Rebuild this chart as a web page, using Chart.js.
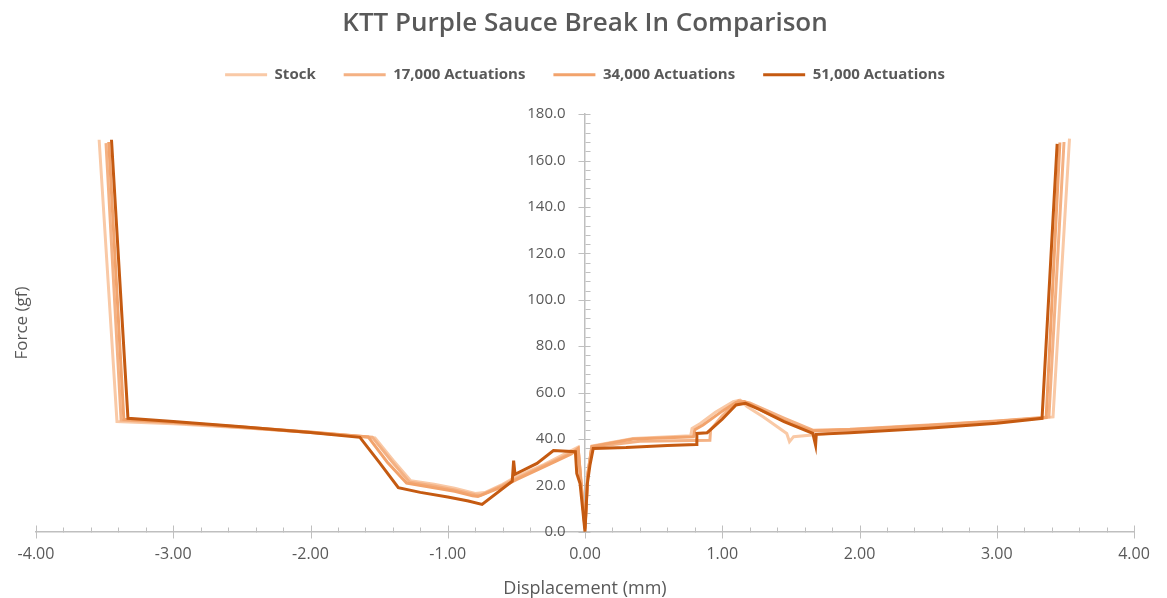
<!DOCTYPE html>
<html>
<head>
<meta charset="utf-8">
<script src="https://cdn.jsdelivr.net/npm/chart.js@4.4.1/dist/chart.umd.min.js"></script>
<style>
  html, body { margin: 0; padding: 0; background: #fff; }
  #wrap { width: 1167px; height: 598px; }
</style>
</head>
<body>
<div id="wrap"><canvas id="chart"></canvas></div>
<script>
// series names + colours
const seriesNames = ["Stock", "17,000 Actuations", "34,000 Actuations", "51,000 Actuations"];
const seriesColors = ["#f9c9a6", "#f4b183", "#f2a36c", "#c55a11"];

// displacement (mm) / force (gf)
const stockX = [-3.54, -3.41, -3.0, -2.5, -2.0, -1.53, -1.40, -1.27, -1.10, -0.95, -0.80, -0.73, -0.60, -0.50, -0.30, -0.10, -0.05, -0.03, 0.00, 0.02, 0.05, 0.35, 0.77, 0.78, 0.84, 0.95, 1.08, 1.13, 1.18, 1.30, 1.47, 1.49, 1.52, 1.93, 2.5, 3.0, 3.41, 3.53];
const stockY = [169.0, 47.5, 46.6, 44.8, 42.9, 40.5, 31.0, 22.0, 20.5, 18.8, 16.5, 16.9, 20.5, 23.8, 29.0, 35.0, 36.5, 22.0, 1.0, 24.0, 37.0, 40.2, 41.4, 44.6, 46.7, 51.5, 56.1, 56.8, 54.0, 49.5, 42.4, 38.8, 41.0, 43.2, 45.3, 47.3, 49.5, 169.5];

const k17X = [-3.49, -3.38, -3.0, -2.5, -2.0, -1.55, -1.41, -1.28, -1.10, -0.95, -0.80, -0.76, -0.60, -0.50, -0.30, -0.10, -0.05, -0.03, 0.00, 0.02, 0.05, 0.40, 0.91, 0.915, 1.00, 1.12, 1.20, 1.45, 1.66, 1.93, 2.5, 3.0, 3.38, 3.49];
const k17Y = [167.5, 48.2, 47.0, 45.0, 42.8, 40.8, 30.5, 21.5, 19.8, 18.0, 16.0, 15.8, 20.0, 23.0, 28.5, 34.0, 36.0, 21.0, 2.0, 25.0, 36.6, 39.0, 39.5, 44.0, 50.0, 56.5, 55.5, 49.0, 43.8, 44.2, 46.0, 47.8, 49.5, 168.0];

const k34X = [-3.47, -3.36, -3.0, -2.5, -2.0, -1.58, -1.44, -1.30, -1.10, -0.95, -0.82, -0.78, -0.60, -0.50, -0.30, -0.10, -0.05, -0.03, 0.00, 0.02, 0.05, 0.35, 0.79, 0.80, 0.86, 1.00, 1.10, 1.16, 1.30, 1.50, 1.66, 1.93, 2.5, 3.0, 3.36, 3.46];
const k34Y = [168.0, 48.5, 47.2, 45.2, 43.0, 40.9, 30.0, 21.0, 19.0, 17.5, 15.5, 15.2, 19.5, 22.5, 28.0, 33.5, 35.8, 22.5, 1.5, 24.5, 36.8, 40.0, 41.0, 44.0, 46.0, 52.0, 55.8, 56.2, 52.0, 46.5, 43.5, 44.0, 45.8, 47.6, 49.2, 167.8];

const k51X = [-3.45, -3.33, -3.0, -2.5, -2.0, -1.64, -1.50, -1.36, -1.20, -1.00, -0.85, -0.75, -0.53, -0.52, -0.51, -0.35, -0.23, -0.07, -0.06, -0.036, 0.00, 0.017, 0.036, 0.06, 0.30, 0.60, 0.81, 0.815, 0.89, 1.00, 1.10, 1.17, 1.27, 1.45, 1.66, 1.68, 1.685, 1.93, 2.5, 3.0, 3.33, 3.44];
const k51Y = [169.0, 48.9, 47.5, 45.3, 42.8, 40.7, 30.0, 19.0, 17.0, 15.0, 13.3, 11.8, 21.8, 30.7, 24.8, 29.5, 35.0, 34.5, 25.1, 20.8, 0.0, 20.8, 28.7, 35.9, 36.3, 37.2, 37.6, 42.4, 42.7, 48.5, 54.7, 55.4, 52.8, 47.5, 42.4, 37.3, 42.0, 42.7, 44.6, 46.8, 48.9, 167.2];

const seriesX = [stockX, k17X, k34X, k51X];
const seriesY = [stockY, k17Y, k34Y, k51Y];

// axis ranges
const xMin = -4, xMax = 4, xStep = 1, xMinor = 0.2;
const yMin = 0, yMax = 180, yStep = 20, yMinor = 4;

const TEXT = "#595959";
const AXIS = "#bfbfbf";
const FONT = "'Open Sans', 'Noto Sans', sans-serif";

function pts(xs, ys) {
  return xs.map(function(v, i) { return { x: v, y: ys[i] }; });
}

// axis tick marks (major cross the axis, minor on one side) + y labels left of the centred axis
const tickMarks = {
  id: "tickMarks",
  beforeDatasetsDraw(chart) {
    const ctx = chart.ctx;
    const x = chart.scales.x, y = chart.scales.y;
    const x0 = Math.round(x.getPixelForValue(0)) + 0.5;
    const y0 = Math.round(y.getPixelForValue(0)) + 0.5;
    ctx.save();
    ctx.strokeStyle = AXIS;
    ctx.lineWidth = 1;
    ctx.beginPath();
    const nx = Math.round((xMax - xMin) / xMinor);
    for (let i = 0; i <= nx; i++) {
      const px = Math.round(x.getPixelForValue(xMin + i * xMinor)) + 0.5;
      const major = i % 5 === 0;
      ctx.moveTo(px, y0 - (major ? 7 : 5));
      ctx.lineTo(px, major ? y0 + 6 : y0);
    }
    const ny = Math.round((yMax - yMin) / yMinor);
    for (let i = 0; i <= ny; i++) {
      const py = Math.round(y.getPixelForValue(yMin + i * yMinor)) + 0.5;
      const major = i % 5 === 0;
      ctx.moveTo(major ? x0 - 7 : x0, py);
      ctx.lineTo(x0 + 5, py);
    }
    ctx.stroke();

    ctx.font = "15px " + FONT;
    ctx.fillStyle = TEXT;
    ctx.textAlign = "right";
    ctx.textBaseline = "middle";
    y.ticks.forEach(function(t) {
      ctx.fillText(t.value.toFixed(1), x0 - 20, y.getPixelForValue(t.value));
    });
    ctx.restore();
  }
};

// y axis title sits at the far left, not next to the centred axis
const yTitle = {
  id: "yTitle",
  afterDraw(chart) {
    const ctx = chart.ctx, a = chart.chartArea;
    ctx.save();
    ctx.translate(22, (a.top + a.bottom) / 2);
    ctx.rotate(-Math.PI / 2);
    ctx.font = "17px " + FONT;
    ctx.fillStyle = TEXT;
    ctx.textAlign = "center";
    ctx.textBaseline = "middle";
    ctx.fillText("Force (gf)", 0, 0);
    ctx.restore();
  }
};

// extra room under the legend
const legendGap = {
  id: "legendGap",
  beforeInit(chart) {
    const fit = chart.legend.fit;
    chart.legend.fit = function() {
      fit.call(this);
      this.height += 22;
    };
  }
};

new Chart(document.getElementById("chart"), {
  type: "scatter",
  data: {
    datasets: seriesNames.map(function(name, i) {
      return {
        label: name,
        data: pts(seriesX[i], seriesY[i]),
        showLine: true,
        borderColor: seriesColors[i],
        backgroundColor: seriesColors[i],
        borderWidth: 3,
        pointRadius: 0,
        tension: 0,
        order: 4 - i
      };
    })
  },
  options: {
    responsive: true,
    maintainAspectRatio: false,
    animation: false,
    layout: { padding: { left: 36, right: 33, top: 0, bottom: 0 } },
    plugins: {
      title: {
        display: true,
        text: "KTT Purple Sauce Break In Comparison",
        color: TEXT,
        font: { family: FONT, size: 26, weight: 600 },
        padding: { top: 8, bottom: 0 }
      },
      legend: {
        display: true,
        labels: {
          color: TEXT,
          font: { family: FONT, size: 15, weight: "bold" },
          boxWidth: 42,
          boxHeight: 3,
          padding: 28,
          generateLabels(chart) {
            return chart.data.datasets.map(function(ds, i) {
              return {
                text: ds.label,
                fillStyle: ds.borderColor,
                strokeStyle: ds.borderColor,
                lineWidth: 0,
                fontColor: TEXT,
                datasetIndex: i,
                hidden: false
              };
            });
          }
        }
      },
      tooltip: { enabled: false }
    },
    scales: {
      x: {
        type: "linear",
        min: xMin,
        max: xMax,
        grid: { display: false, drawTicks: false },
        border: { display: true, color: AXIS, width: 1.5 },
        ticks: {
          stepSize: xStep,
          color: TEXT,
          font: { family: FONT, size: 16 },
          padding: 13,
          callback: function(v) { return v.toFixed(2); }
        },
        title: {
          display: true,
          text: "Displacement (mm)",
          color: TEXT,
          font: { family: FONT, size: 18, lineHeight: 1 },
          padding: { top: 3, bottom: 0 }
        }
      },
      y: {
        type: "linear",
        position: { x: 0 },
        min: yMin,
        max: yMax,
        grid: { display: false, drawTicks: false },
        border: { display: true, color: AXIS, width: 1.5 },
        ticks: {
          stepSize: yStep,
          display: false
        }
      }
    }
  },
  plugins: [tickMarks, yTitle, legendGap]
});
</script>
</body>
</html>
